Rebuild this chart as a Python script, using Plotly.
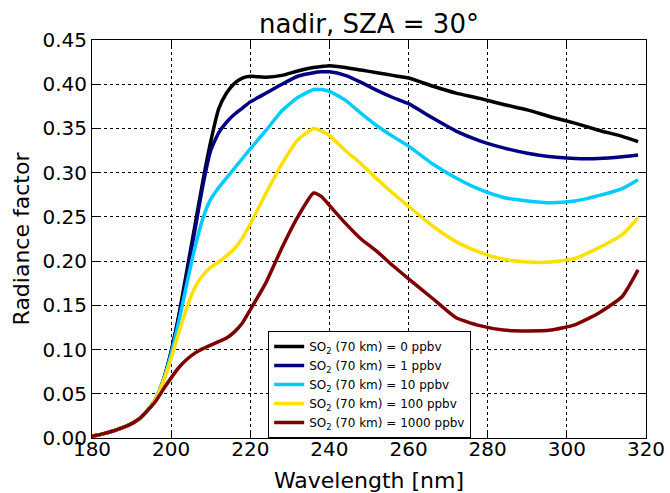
import plotly.graph_objects as go

wavelength = [180, 183, 186, 189, 192, 194, 196, 198, 200, 202, 204, 206, 208, 210, 212, 214, 216, 218, 220,
              224, 228, 232, 236, 238, 240, 244, 248, 252, 256, 260, 266, 272, 278, 284, 290, 296, 302, 308, 314, 318]

so2_0 = [0.002, 0.005, 0.009, 0.014, 0.022, 0.031, 0.043, 0.065, 0.098, 0.140, 0.190, 0.240, 0.290, 0.335, 0.372, 0.390, 0.401, 0.407, 0.409,
         0.408, 0.410, 0.415, 0.419, 0.420, 0.421, 0.419, 0.416, 0.413, 0.410, 0.407, 0.398, 0.390, 0.384, 0.377, 0.371, 0.363, 0.356, 0.348, 0.341, 0.335]
so2_1 = [0.002, 0.005, 0.009, 0.014, 0.022, 0.031, 0.043, 0.065, 0.097, 0.138, 0.185, 0.235, 0.285, 0.325, 0.345, 0.357, 0.366, 0.373, 0.380,
         0.390, 0.400, 0.409, 0.413, 0.414, 0.414, 0.410, 0.402, 0.393, 0.385, 0.378, 0.362, 0.347, 0.336, 0.328, 0.322, 0.318, 0.316, 0.316, 0.318, 0.320]
so2_10 = [0.002, 0.005, 0.009, 0.014, 0.022, 0.031, 0.043, 0.065, 0.095, 0.133, 0.175, 0.215, 0.248, 0.270, 0.283, 0.294, 0.305, 0.316, 0.327,
          0.348, 0.370, 0.385, 0.394, 0.394, 0.392, 0.382, 0.367, 0.353, 0.341, 0.330, 0.310, 0.294, 0.281, 0.272, 0.268, 0.266, 0.268, 0.274, 0.282, 0.292]
so2_100 = [0.002, 0.005, 0.009, 0.014, 0.022, 0.031, 0.043, 0.064, 0.090, 0.120, 0.148, 0.170, 0.184, 0.193, 0.199, 0.206, 0.214, 0.226, 0.242,
           0.277, 0.310, 0.337, 0.350, 0.347, 0.342, 0.325, 0.310, 0.293, 0.277, 0.262, 0.240, 0.222, 0.210, 0.202, 0.199, 0.199, 0.203, 0.215, 0.230, 0.249]
so2_1000 = [0.002, 0.005, 0.009, 0.014, 0.022, 0.031, 0.041, 0.055, 0.068, 0.080, 0.089, 0.096, 0.101, 0.105, 0.109, 0.113, 0.120, 0.130, 0.145,
            0.176, 0.215, 0.250, 0.277, 0.273, 0.263, 0.243, 0.225, 0.211, 0.195, 0.180, 0.158, 0.136, 0.127, 0.122, 0.121, 0.122, 0.128, 0.141, 0.160, 0.190]

series = [
    ("SO<sub>2</sub> (70 km) = 0 ppbv", so2_0, "#000000"),
    ("SO<sub>2</sub> (70 km) = 1 ppbv", so2_1, "#000080"),
    ("SO<sub>2</sub> (70 km) = 10 ppbv", so2_10, "#00CCFF"),
    ("SO<sub>2</sub> (70 km) = 100 ppbv", so2_100, "#FFE000"),
    ("SO<sub>2</sub> (70 km) = 1000 ppbv", so2_1000, "#800000"),
]

x_ticks = [180, 200, 220, 240, 260, 280, 300, 320]
y_ticks = [0.00, 0.05, 0.10, 0.15, 0.20, 0.25, 0.30, 0.35, 0.40, 0.45]

fig = go.Figure()
for name, vals, col in series:
    fig.add_trace(go.Scatter(x=wavelength, y=vals, mode="lines", name=name,
                             line=dict(color=col, width=3.5, shape="spline", smoothing=0.5)))

axis_common = dict(showline=True, linecolor="black", linewidth=1, mirror="allticks",
                   ticks="inside", ticklen=6, tickcolor="black", automargin=False,
                   showgrid=True, gridcolor="black", griddash="dot", gridwidth=1,
                   zeroline=False, tickfont=dict(size=20, color="black"))

fig.update_layout(
    width=670, height=493,
    margin=dict(l=92, r=24, t=40, b=55),
    paper_bgcolor="white", plot_bgcolor="white",
    font=dict(family="DejaVu Sans", color="black"),
    title=dict(text="nadir, SZA = 30°", x=0.5, xanchor="center", y=0.952, yanchor="middle",
               xref="paper", font=dict(size=26)),
    xaxis=dict(range=[180, 320], tickvals=x_ticks, ticktext=[str(v) for v in x_ticks],
               ticklabelstandoff=-7,
               title=dict(text="Wavelength [nm]", font=dict(size=22), standoff=12), **axis_common),
    yaxis=dict(range=[0, 0.45], tickvals=y_ticks, ticktext=[f"{v:.2f}" for v in y_ticks],
               title=dict(text="Radiance factor", font=dict(size=22), standoff=6), **axis_common),
    legend=dict(x=0.318, y=0.0, xanchor="left", yanchor="bottom",
                bordercolor="black", borderwidth=1, bgcolor="white",
                font=dict(size=12), tracegroupgap=0, itemwidth=30),
    showlegend=True,
)

fig.write_html("out.html")
